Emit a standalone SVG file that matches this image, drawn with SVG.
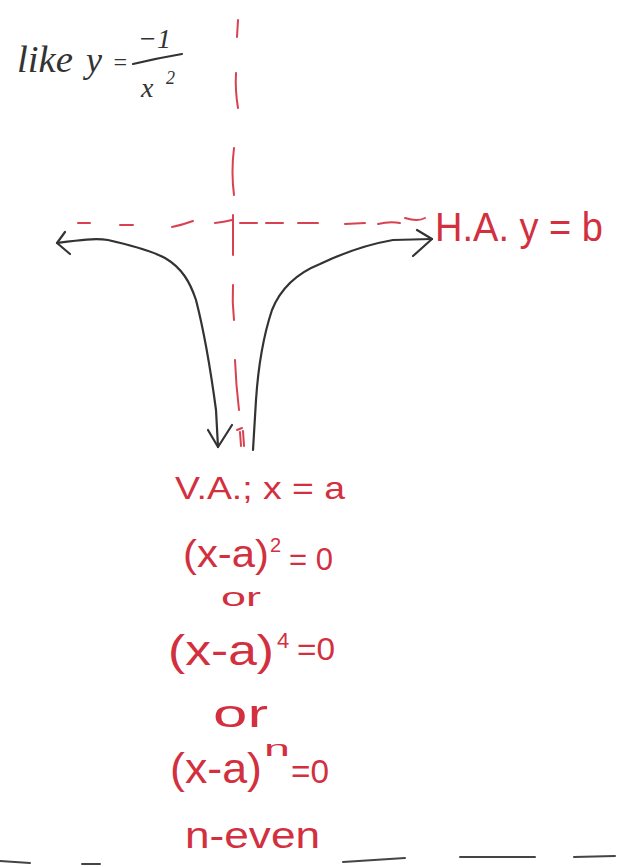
<svg xmlns="http://www.w3.org/2000/svg" width="621" height="867" viewBox="0 0 621 867">
<style>
.red{fill:#d3303f;font-family:"Liberation Sans",Arial,sans-serif;}
.ink{fill:#333;font-family:"Liberation Serif","Times New Roman",serif;font-style:italic;}
.dash{stroke:#d94050;stroke-width:2;fill:none;stroke-linecap:round;}
.curve{stroke:#333;stroke-width:2.2;fill:none;stroke-linecap:round;stroke-linejoin:round;}
.edge{stroke:#444;stroke-width:2;fill:none;stroke-linecap:round;}
</style>
<rect width="621" height="867" fill="#fff"/>
<g id="title">
<text class="ink" x="17" y="72" font-size="38" textLength="56" lengthAdjust="spacingAndGlyphs">like</text>
<text class="ink" x="86" y="72" font-size="36">y</text>
<text class="ink" x="112" y="70" font-size="24" font-style="normal">=</text>
<text class="ink" x="138" y="48" font-size="28" font-style="normal">−1</text>
<path class="curve" d="M133 64 Q158 58 182 54" stroke-width="1.8"/>
<text class="ink" x="141" y="97" font-size="28">x</text>
<text class="ink" x="166" y="84" font-size="18" font-style="normal">2</text>
</g>
<g id="vertical-asymptote">
<path class="dash" d="M238 20 L237 37"/>
<path class="dash" d="M236 73 Q235 90 238 108"/>
<path class="dash" d="M234 148 Q231 172 234 195"/>
<path class="dash" d="M233 215 L233 255"/>
<path class="dash" d="M233 285 Q232 302 234 320"/>
<path class="dash" d="M235 360 Q236 385 239 410"/>
<path class="dash" d="M237 430 L242 428 M240 432 L241 446 M243 431 L244 446" stroke-width="1.5"/>
</g>
<g id="horizontal-asymptote">
<path class="dash" d="M78 223 L90 223"/>
<path class="dash" d="M120 225 L133 225"/>
<path class="dash" d="M172 227 Q182 225 193 221"/>
<path class="dash" d="M215 223 Q224 222 232 220"/>
<path class="dash" d="M240 223 L257 223"/>
<path class="dash" d="M266 223 L283 223"/>
<path class="dash" d="M298 223 L318 223"/>
<path class="dash" d="M345 224 L365 223"/>
<path class="dash" d="M378 224 Q390 221 400 223"/>
<path class="dash" d="M405 218 Q418 222 425 218"/>
</g>
<g id="ha-label">
<text class="red" x="435" y="241" font-size="40" textLength="168" lengthAdjust="spacingAndGlyphs">H.A. y = b</text>
</g>
<g id="connectors">
<path class="curve" d="M57 243 C80 240 95 238 108 240 C130 245 150 250 165 258 C182 268 190 282 196 300 C205 335 212 380 216 410 L218 447"/>
<path class="curve" d="M65 232 L57 243 L70 254"/>
<path class="curve" d="M208 430 L218 447 L232 425"/>
<path class="curve" d="M253 450 L256 400 C258 370 262 340 272 310 C282 285 300 272 320 264 C345 252 370 244 393 240 L432 239"/>
<path class="curve" d="M417 230 L432 239 L413 256"/>
</g>
<g id="va-label">
<text class="red" x="175" y="499" font-size="32" textLength="170" lengthAdjust="spacingAndGlyphs">V.A.; x = a</text>
<text class="red" x="183" y="567" font-size="38" textLength="86" lengthAdjust="spacingAndGlyphs">(x-a)</text>
<text class="red" x="270" y="552" font-size="20">2</text>
<text class="red" x="289" y="570" font-size="32" textLength="44" lengthAdjust="spacingAndGlyphs">= 0</text>
<text class="red" x="221" y="606" font-size="26" textLength="40" lengthAdjust="spacingAndGlyphs">or</text>
<text class="red" x="168" y="665" font-size="42" textLength="106" lengthAdjust="spacingAndGlyphs">(x-a)</text>
<text class="red" x="277" y="648" font-size="22">4</text>
<text class="red" x="297" y="660" font-size="32" textLength="38" lengthAdjust="spacingAndGlyphs">=0</text>
<text class="red" x="213" y="727" font-size="38" textLength="55" lengthAdjust="spacingAndGlyphs">or</text>
<text class="red" x="170" y="783" font-size="42" textLength="92" lengthAdjust="spacingAndGlyphs">(x-a)</text>
<text class="red" x="264" y="756" font-size="22" textLength="26" lengthAdjust="spacingAndGlyphs">n</text>
<text class="red" x="291" y="783" font-size="34" textLength="38" lengthAdjust="spacingAndGlyphs">=0</text>
<text class="red" x="185" y="848" font-size="36" textLength="135" lengthAdjust="spacingAndGlyphs">n-even</text>
</g>
<g id="page-edge">
<path class="edge" d="M0 861 L30 863"/>
<path class="edge" d="M82 864 L100 864" stroke="#999" stroke-width="1"/>
<path class="edge" d="M343 862 L405 858"/>
<path class="edge" d="M460 857 L535 857"/>
<path class="edge" d="M574 857 L615 856"/>
</g>
</svg>
